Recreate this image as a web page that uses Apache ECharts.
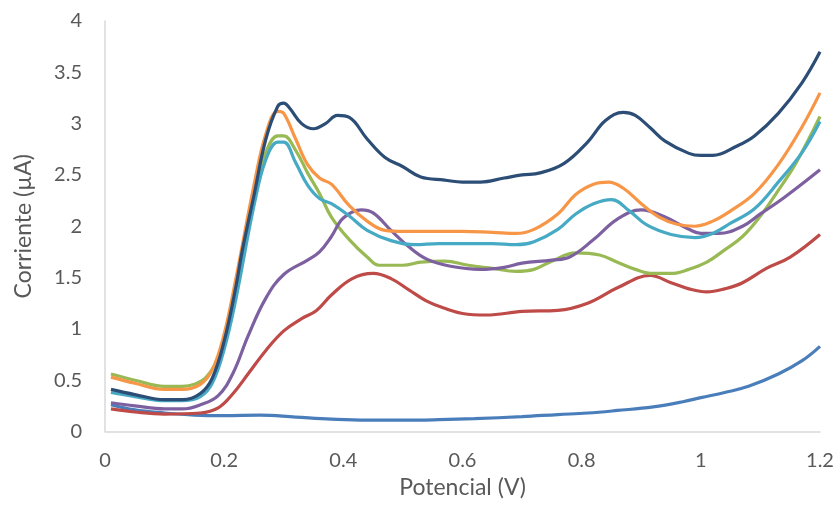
<!DOCTYPE html>
<html>
<head>
<meta charset="utf-8">
<script src="https://cdn.jsdelivr.net/npm/echarts@6/dist/echarts.min.js"></script>
<style>html,body{margin:0;padding:0;background:#fff;}#c{width:840px;height:506px;}</style>
</head>
<body>
<div id="c"></div>
<script>
// Series data (x = Potencial V, y = Corriente µA)
const blueX = [0.01,0.05,0.1,0.15,0.2,0.26,0.32,0.38,0.44,0.5,0.56,0.62,0.7,0.76,0.81,0.86,0.92,0.97,1.0,1.04,1.08,1.13,1.17,1.2];
const blueY = [0.26,0.21,0.18,0.16,0.155,0.16,0.14,0.12,0.11,0.11,0.115,0.125,0.145,0.165,0.18,0.205,0.24,0.29,0.33,0.38,0.44,0.56,0.69,0.83];

const redX = [0.01,0.05,0.1,0.16,0.19,0.215,0.24,0.27,0.3,0.33,0.355,0.38,0.415,0.45,0.48,0.51,0.54,0.57,0.6,0.64,0.7,0.76,0.81,0.86,0.915,0.95,0.98,1.01,1.04,1.07,1.11,1.15,1.2];
const redY = [0.22,0.19,0.17,0.18,0.23,0.37,0.56,0.79,0.98,1.1,1.18,1.33,1.49,1.54,1.49,1.38,1.27,1.2,1.15,1.135,1.17,1.18,1.25,1.4,1.52,1.45,1.39,1.36,1.39,1.45,1.59,1.7,1.92];

const greenX = [0.01,0.05,0.1,0.13,0.15,0.17,0.19,0.21,0.23,0.25,0.27,0.29,0.3,0.32,0.34,0.36,0.38,0.41,0.44,0.46,0.5,0.53,0.57,0.61,0.65,0.69,0.72,0.75,0.79,0.83,0.86,0.89,0.92,0.95,0.98,1.01,1.04,1.07,1.1,1.13,1.16,1.2];
const greenY = [0.56,0.5,0.44,0.44,0.46,0.53,0.72,1.1,1.7,2.3,2.72,2.88,2.88,2.74,2.52,2.32,2.09,1.87,1.7,1.62,1.62,1.65,1.66,1.62,1.59,1.56,1.58,1.66,1.74,1.72,1.65,1.58,1.54,1.54,1.58,1.65,1.77,1.9,2.1,2.35,2.62,3.07];

const purpleX = [0.01,0.05,0.1,0.13,0.16,0.19,0.215,0.24,0.27,0.3,0.34,0.36,0.38,0.4,0.43,0.45,0.48,0.51,0.54,0.58,0.63,0.67,0.7,0.75,0.78,0.82,0.86,0.9,0.94,0.98,1.0,1.03,1.07,1.1,1.14,1.2];
const purpleY = [0.28,0.25,0.22,0.22,0.26,0.35,0.57,0.93,1.3,1.53,1.67,1.75,1.9,2.08,2.16,2.13,1.96,1.8,1.68,1.61,1.58,1.6,1.64,1.67,1.7,1.87,2.07,2.16,2.09,1.97,1.93,1.93,2.0,2.12,2.28,2.55];

const cyanX = [0.01,0.05,0.1,0.13,0.16,0.18,0.2,0.22,0.25,0.27,0.29,0.3,0.32,0.34,0.36,0.38,0.41,0.44,0.48,0.52,0.56,0.6,0.65,0.69,0.72,0.76,0.79,0.82,0.85,0.88,0.91,0.95,0.99,1.02,1.05,1.09,1.13,1.17,1.2];
const cyanY = [0.38,0.34,0.3,0.3,0.34,0.47,0.8,1.3,2.2,2.65,2.82,2.82,2.62,2.4,2.27,2.22,2.1,1.96,1.86,1.82,1.83,1.83,1.83,1.82,1.85,1.97,2.12,2.22,2.26,2.15,2.01,1.92,1.89,1.93,2.03,2.17,2.43,2.72,3.02];

const orangeX = [0.01,0.05,0.1,0.13,0.16,0.18,0.2,0.22,0.25,0.27,0.29,0.3,0.32,0.34,0.36,0.38,0.41,0.44,0.47,0.5,0.55,0.6,0.65,0.69,0.72,0.76,0.79,0.82,0.845,0.87,0.9,0.93,0.96,0.99,1.02,1.05,1.09,1.13,1.17,1.2];
const orangeY = [0.53,0.47,0.41,0.41,0.46,0.6,0.95,1.5,2.4,2.9,3.12,3.1,2.85,2.6,2.47,2.41,2.2,2.05,1.96,1.95,1.95,1.95,1.94,1.93,1.97,2.12,2.31,2.41,2.43,2.37,2.22,2.09,2.02,2.0,2.05,2.15,2.32,2.6,2.97,3.3];

const navyX = [0.01,0.05,0.1,0.13,0.16,0.18,0.2,0.22,0.23,0.25,0.27,0.29,0.3,0.31,0.33,0.35,0.37,0.39,0.41,0.44,0.47,0.5,0.53,0.57,0.6,0.63,0.67,0.7,0.73,0.77,0.81,0.84,0.87,0.89,0.915,0.94,0.98,1.0,1.02,1.06,1.09,1.13,1.17,1.2];
const navyY = [0.41,0.36,0.31,0.31,0.37,0.52,0.88,1.42,1.75,2.3,2.85,3.17,3.2,3.15,3.0,2.95,3.0,3.08,3.06,2.85,2.67,2.58,2.48,2.45,2.43,2.43,2.47,2.5,2.52,2.61,2.82,3.03,3.11,3.08,2.96,2.83,2.71,2.69,2.69,2.78,2.88,3.1,3.4,3.7];

const xTicks = [0, 0.2, 0.4, 0.6, 0.8, 1, 1.2];
const yTicks = [0, 0.5, 1, 1.5, 2, 2.5, 3, 3.5, 4];

const seriesDefs = [
  {x: blueX, y: blueY, color: '#4A7EBB'},
  {x: redX, y: redY, color: '#BE4B48'},
  {x: greenX, y: greenY, color: '#98B954'},
  {x: purpleX, y: purpleY, color: '#7D60A0'},
  {x: cyanX, y: cyanY, color: '#46AAC5'},
  {x: orangeX, y: orangeY, color: '#F79646'},
  {x: navyX, y: navyY, color: '#2C4D75'}
];

const chart = echarts.init(document.getElementById('c'), null, {renderer: 'canvas'});
const font = 'Lato, "Open Sans", sans-serif';
chart.setOption({
  animation: false,
  backgroundColor: '#ffffff',
  grid: {left: 105, right: 20, top: 21, bottom: 74.5},
  xAxis: {
    type: 'value', min: xTicks[0], max: xTicks[xTicks.length-1], interval: 0.2,
    name: 'Potencial (V)', nameLocation: 'middle', nameGap: 45,
    nameTextStyle: {fontFamily: font, fontSize: 23, color: '#595959'},
    axisLine: {show: true, lineStyle: {color: '#D9D9D9', width: 1.5}},
    axisTick: {show: false},
    splitLine: {show: false},
    axisLabel: {fontFamily: font, fontSize: 20, color: '#595959', margin: 19}
  },
  yAxis: {
    type: 'value', min: yTicks[0], max: yTicks[yTicks.length-1], interval: 0.5,
    name: 'Corriente (µA)', nameLocation: 'middle', nameGap: 70,
    nameTextStyle: {fontFamily: font, fontSize: 23, color: '#595959'},
    axisLine: {show: true, lineStyle: {color: '#D9D9D9', width: 1.5}},
    axisTick: {show: false},
    splitLine: {show: false},
    axisLabel: {fontFamily: font, fontSize: 20, color: '#595959', margin: 23}
  },
  series: seriesDefs.map(s => ({
    type: 'line',
    data: s.x.map((v, i) => [v, s.y[i]]),
    smooth: 0.4,
    showSymbol: false,
    symbol: 'none',
    lineStyle: {color: s.color, width: 3.2},
    itemStyle: {color: s.color}
  }))
});
</script>
</body>
</html>
